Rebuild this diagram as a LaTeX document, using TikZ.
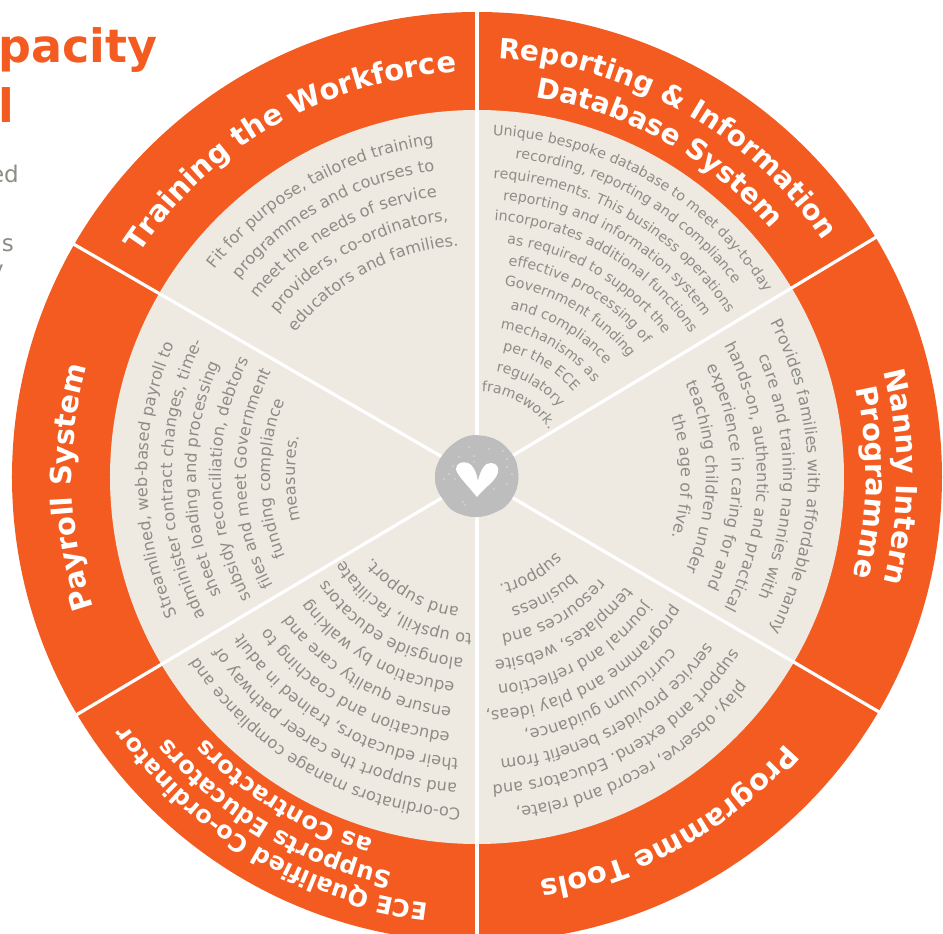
\documentclass[tikz,border=0pt]{standalone}
\usepackage{fontspec}
\setmainfont{DejaVu Sans}
\newfontfamily\boldface{DejaVu Sans Bold}
\usetikzlibrary{decorations.text}
\definecolor{wheelorange}{HTML}{F45B20}
\definecolor{wheelcream}{HTML}{EEEAE2}
\definecolor{wheelgrey}{HTML}{8D8D86}
\definecolor{hubgrey}{HTML}{BDBDBD}
\newcommand{\titlefont}{\boldface\fontsize{29}{32}\selectfont\color{white}}
\newcommand{\titlefontB}{\boldface\fontsize{28}{32}\selectfont\color{white}}
\newcommand{\titlefontC}{\boldface\fontsize{24}{28}\selectfont\color{white}}
\newcommand{\bodyfont}{\fontsize{16.2}{20}\selectfont\color{wheelgrey}}
\newcommand{\bodyfontB}{\fontsize{14.2}{18}\selectfont\color{wheelgrey}}
\newcommand{\curveline}[4]{%
  \path[decorate,decoration={text along path,text={|#3|#4},text align=center}]
    (#1+88:#2) arc[start angle=#1+88,end angle=#1-88,radius=#2];}
\tikzset{
  x=1pt,y=1pt,
  divider/.style={draw=white,line width=3.2pt},
  headline/.style={text=wheelorange,font=\boldface\fontsize{46}{50}\selectfont,anchor=base east,inner sep=0pt},
  sideline/.style={text=wheelgrey,font=\fontsize{23}{26}\selectfont,anchor=base east,inner sep=0pt},
}
\begin{document}
\begin{tikzpicture}
\clip (-477,-457) rectangle (466,477);
\useasboundingbox (-477,-457) rectangle (466,477);
\fill[white] (-477,-457) rectangle (466,477);
% wheel
\fill[wheelorange] (0,0) circle[radius=465];
\fill[wheelcream] (0,0) circle[radius=367];
\foreach \a in {90,31,-30.3,-90,-149.3,150}
  \draw[divider] (0,0) -- (\a:470);
% hub
\fill[hubgrey] plot[smooth cycle,tension=.7] coordinates {
  (-1,42) (8,41) (20,37) (30,29) (38,18) (41,6) (41,-6) (37,-18) (29,-29) (19,-35) (8,-39)
  (-3,-40) (-14,-38) (-25,-33) (-33,-24) (-40,-12) (-42,0) (-40,12) (-33,24) (-24,33) (-12,40)};
\fill[white] (0,-20) .. controls (-8,-10) and (-21,3) .. (-21,8)
  .. controls (-21,14) and (-14,16) .. (-9,14) .. controls (-4,12) and (-1,6) .. (1,-4)
  .. controls (3,6) and (8,15) .. (14,14) .. controls (20,14) and (22,9) .. (21,5)
  .. controls (20,-3) and (8,-10) .. (0,-20);
\foreach \p/\q in {-24/11,-28/3,-18/20,-3/21,-3/15,12/28,26/26,30/10,35/3,30/-7,17/-12,-14/-25,-12/-28,-8/30,-33/-2,-22/-2,30/18}
  \fill[white] (\p,\q) circle[radius=.6];
% Reporting sector
\curveline{60.7}{419}{\titlefontB}{Reporting {\&} Information}
\curveline{60.7}{384}{\titlefontB}{Database System}
\curveline{60}{342}{\bodyfontB}{Unique bespoke database to meet day-to-day}
\curveline{60}{321}{\bodyfontB}{recording, reporting and compliance}
\curveline{60}{299}{\bodyfontB}{requirements. This business operations}
\curveline{60}{278}{\bodyfontB}{reporting and information system}
\curveline{60}{257}{\bodyfontB}{incorporates additional functions}
\curveline{60}{235}{\bodyfontB}{as required to support the}
\curveline{60}{214}{\bodyfontB}{effective processing of}
\curveline{60}{193}{\bodyfontB}{Government funding}
\curveline{60}{171}{\bodyfontB}{and compliance}
\curveline{60}{150}{\bodyfontB}{mechanisms as}
\curveline{60}{129}{\bodyfontB}{per the ECE}
\curveline{60}{107}{\bodyfontB}{regulatory}
\curveline{60}{86}{\bodyfontB}{framework.}
% Nanny sector
\curveline{0}{420}{\titlefont}{Nanny Intern}
\curveline{-0.8}{389}{\titlefont}{Programme}
\curveline{0}{331}{\bodyfont}{Provides families with affordable nanny}
\curveline{0}{306}{\bodyfont}{care and training nannies with}
\curveline{0}{280}{\bodyfont}{hands-on, authentic and practical}
\curveline{0}{255}{\bodyfont}{experience in caring for and}
\curveline{0}{229}{\bodyfont}{teaching children under}
\curveline{0}{204}{\bodyfont}{the age of five.}
% Programme tools sector
\curveline{-61}{408}{\titlefont}{Programme Tools}
\curveline{-60.5}{333}{\bodyfont}{play, observe, record and relate,}
\curveline{-60.5}{308}{\bodyfont}{support and extend. Educators and}
\curveline{-60.5}{283}{\bodyfont}{service providers benefit from}
\curveline{-60.5}{258}{\bodyfont}{curriculum guidance,}
\curveline{-60.5}{234}{\bodyfont}{programme and play ideas,}
\curveline{-60.5}{209}{\bodyfont}{journal and reflection}
\curveline{-60.5}{184}{\bodyfont}{templates, website}
\curveline{-60.5}{159}{\bodyfont}{resources and}
\curveline{-60.5}{135}{\bodyfont}{business}
\curveline{-61}{110}{\bodyfont}{support.}
% ECE sector
\curveline{-120.6}{429}{\titlefontC}{ECE Qualified Co-ordinator}
\curveline{-121}{404}{\titlefontC}{Supports Educators}
\curveline{-121}{377}{\titlefontC}{as Contractors}
\curveline{-120}{332}{\bodyfont}{Co-ordinators manage compliance and}
\curveline{-120}{307}{\bodyfont}{and support the career pathway of}
\curveline{-120}{282}{\bodyfont}{their educators, trained in adult}
\curveline{-120}{257}{\bodyfont}{education and coaching to}
\curveline{-120}{232}{\bodyfont}{ensure quality care and}
\curveline{-120}{207}{\bodyfont}{education by walking}
\curveline{-120}{182}{\bodyfont}{alongside educators}
\curveline{-120}{157}{\bodyfont}{to upskill, facilitate}
\curveline{-120}{132}{\bodyfont}{and support.}
% Payroll sector
\curveline{181.5}{405}{\titlefont}{Payroll System}
\curveline{180.5}{330}{\bodyfont}{Streamlined, web-based payroll to}
\curveline{180.5}{305}{\bodyfont}{administer contract changes, time-}
\curveline{180.5}{281}{\bodyfont}{sheet loading and processing}
\curveline{180.5}{256}{\bodyfont}{subsidy reconciliation, debtors}
\curveline{180.5}{231}{\bodyfont}{files and meet Government}
\curveline{180.5}{207}{\bodyfont}{funding compliance}
\curveline{180.5}{182}{\bodyfont}{measures.}
% Training sector
\curveline{119.7}{405}{\titlefont}{Training the Workforce}
\curveline{119.5}{335}{\bodyfont}{Fit for purpose, tailored training}
\curveline{119}{309}{\bodyfont}{programmes and courses to}
\curveline{119.5}{283}{\bodyfont}{meet the needs of service}
\curveline{118.5}{258}{\bodyfont}{providers, co-ordinators,}
\curveline{118}{232}{\bodyfont}{educators and families.}
% cropped left column
\node[headline] (headA) at (-319.5,414) {pacity};
\node[headline] (headB) at (-463,354) {l};
\node[sideline] (sideA) at (-458,294) {ed};
\node[sideline] (sideB) at (-463,225) {is};
\node[sideline] (sideC) at (-473,199) {y};
\end{tikzpicture}
\end{document}
